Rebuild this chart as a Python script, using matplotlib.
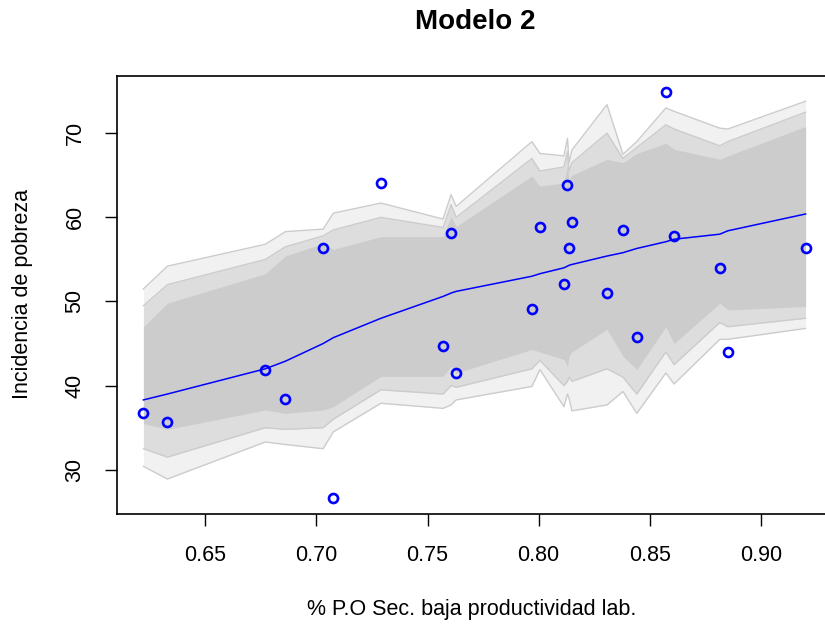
import matplotlib
matplotlib.use("Agg")
import matplotlib.pyplot as plt
import numpy as np

# Observed data (sorted by x)
x_obs = [0.6221, 0.6329, 0.6770, 0.6860, 0.7030, 0.7076, 0.7290, 0.7570,
         0.7606, 0.7629, 0.7970, 0.8006, 0.8114, 0.8130, 0.8137, 0.8150,
         0.8308, 0.8380, 0.8442, 0.8573, 0.8610, 0.8816, 0.8852, 0.9202]
y_obs = [36.7, 35.7, 41.9, 38.45, 56.3, 26.67, 64.05, 44.76,
         58.1, 41.5, 49.05, 58.8, 52.1, 63.9, 56.3, 59.5,
         50.95, 58.45, 45.83, 74.88, 57.74, 53.93, 44.05, 56.3]

# Fitted mean curve
y_fit = [38.3, 39.0, 42.0, 42.9, 45.0, 45.7, 48.0, 50.6,
         51.0, 51.2, 53.0, 53.3, 54.0, 54.2, 54.3, 54.4,
         55.4, 55.8, 56.3, 57.1, 57.4, 58.0, 58.4, 60.4]

# Simulated series: outer extremes
sim_hi = [51.5, 54.2, 56.8, 58.3, 58.6, 60.5, 61.7, 59.8,
          62.7, 61.3, 69.0, 67.6, 67.3, 69.4, 66.5, 68.0,
          73.4, 67.5, 69.0, 73.0, 72.6, 70.6, 70.5, 73.8]
sim_lo = [30.4, 28.9, 33.3, 33.0, 32.5, 34.5, 37.9, 37.3,
          37.7, 38.3, 39.9, 41.9, 37.5, 39.0, 38.5, 37.0,
          37.7, 39.3, 36.7, 41.5, 40.2, 45.5, 45.5, 46.8]

# Next-to-extreme series
mid_hi = [49.5, 52.0, 55.0, 56.5, 57.8, 58.5, 60.0, 58.8,
          61.5, 60.0, 67.0, 65.5, 66.0, 67.8, 65.5, 66.5,
          70.0, 67.0, 68.3, 71.0, 70.5, 68.5, 69.0, 72.5]
mid_lo = [32.5, 31.5, 35.0, 34.8, 35.0, 36.0, 39.5, 39.0,
          40.0, 39.8, 42.0, 43.0, 40.0, 40.5, 41.0, 40.5,
          42.0, 41.0, 39.0, 44.0, 42.5, 47.5, 47.0, 48.0]

# Dense core of the simulated series
core_hi = [47.0, 49.8, 53.3, 55.4, 56.9, 56.2, 57.7, 57.7,
           60.1, 58.9, 64.9, 63.7, 64.1, 66.1, 64.5, 65.0,
           66.9, 66.5, 67.6, 68.8, 68.1, 66.9, 67.3, 70.8]
core_lo = [35.5, 34.8, 37.1, 36.7, 37.1, 37.5, 41.1, 41.1,
           42.3, 41.5, 44.3, 44.0, 43.1, 42.3, 43.5, 44.0,
           46.7, 43.5, 41.9, 47.0, 45.0, 49.8, 49.0, 49.4]

GRAY = "#cccccc"

plt.rcParams["font.family"] = ["Liberation Sans", "DejaVu Sans"]

fig = plt.figure(figsize=(8.25, 6.27), dpi=100)
ax = fig.add_axes([117 / 825, 113 / 627, 715 / 825, 438 / 627])

# simulated band: sparse outer part, denser middle part, solid core
ax.fill_between(x_obs, sim_lo, sim_hi, color="#f1f1f1", lw=0)
ax.fill_between(x_obs, mid_lo, mid_hi, color="#dddddd", lw=0)
ax.fill_between(x_obs, core_lo, core_hi, color=GRAY, lw=0)
for series in (sim_hi, sim_lo, mid_hi, mid_lo):
    ax.plot(x_obs, series, color=GRAY, lw=1)

ax.plot(x_obs, y_fit, color="blue", lw=1.1)
ax.plot(x_obs, y_obs, "o", mfc="none", mec="blue", ms=6.5, mew=1.9)

ax.set_xlim(0.6102, 0.9321)
ax.set_ylim(24.74, 76.8)

ax.set_xticks([0.65, 0.70, 0.75, 0.80, 0.85, 0.90])
ax.set_xticklabels(["0.65", "0.70", "0.75", "0.80", "0.85", "0.90"])
ax.set_yticks([30, 40, 50, 60, 70])
ax.set_yticklabels(["30", "40", "50", "60", "70"], rotation=90, va="center")
ax.tick_params(direction="out", length=8.6, width=1, pad=14, labelsize=15.5)

for s in ax.spines.values():
    s.set_linewidth(1.2)

fig.text(475 / 825, 1 - 22 / 627, "Modelo 2", ha="center", va="center",
         fontsize=20, fontweight="bold")
fig.text(472 / 825, 1 - 609 / 627, "% P.O Sec. baja productividad lab.",
         ha="center", va="center", fontsize=15.5)
fig.text(23 / 825, 1 - 294 / 627, "Incidencia de pobreza", ha="center",
         va="center", rotation=90, fontsize=15.5)

fig.savefig("out.png", dpi=100)
